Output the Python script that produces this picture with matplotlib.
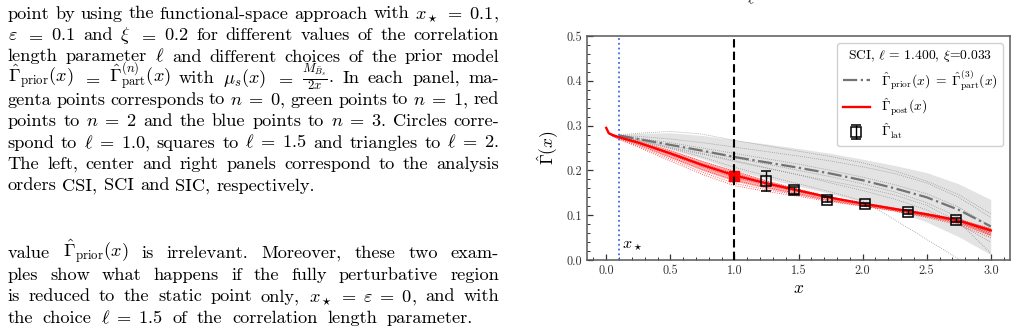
import matplotlib
matplotlib.use("Agg")
import matplotlib.pyplot as plt
from matplotlib.ticker import MultipleLocator

# LaTeX-like look with the bundled Computer Modern fonts
plt.rcParams['font.family'] = ['cmr10', 'DejaVu Serif']
plt.rcParams['mathtext.fontset'] = 'cm'
plt.rcParams['axes.unicode_minus'] = False
plt.rcParams['axes.formatter.use_mathtext'] = True

# ---- data ----
xs = [0.1, 0.25, 0.5, 0.75, 1.0, 1.25, 1.5, 1.75, 2.0, 2.25, 2.5, 2.75, 3.0]
prior_mean = [0.278, 0.270, 0.257, 0.244, 0.230, 0.218, 0.206, 0.193, 0.178, 0.160, 0.140, 0.112, 0.075]
prior_hi = [0.280, 0.283, 0.284, 0.278, 0.268, 0.259, 0.249, 0.238, 0.225, 0.211, 0.195, 0.170, 0.135]
prior_lo = [0.276, 0.266, 0.247, 0.226, 0.200, 0.182, 0.165, 0.148, 0.130, 0.110, 0.085, 0.052, 0.012]
prior_s1 = [0.279, 0.283, 0.287, 0.281, 0.267, 0.255, 0.243, 0.231, 0.217, 0.199, 0.176, 0.146, 0.103]
prior_s2 = [0.278, 0.276, 0.270, 0.262, 0.252, 0.242, 0.232, 0.221, 0.208, 0.193, 0.172, 0.140, 0.095]
prior_s3 = [0.278, 0.272, 0.262, 0.250, 0.238, 0.226, 0.214, 0.200, 0.185, 0.168, 0.148, 0.118, 0.075]
prior_s4 = [0.278, 0.270, 0.256, 0.242, 0.228, 0.214, 0.200, 0.186, 0.170, 0.152, 0.128, 0.095, 0.055]
prior_s5 = [0.277, 0.268, 0.252, 0.238, 0.222, 0.206, 0.190, 0.172, 0.155, 0.136, 0.112, 0.080, 0.040]
prior_s6 = [0.277, 0.266, 0.249, 0.230, 0.207, 0.188, 0.170, 0.152, 0.132, 0.090, 0.046, 0.002, -0.042]
prior_s7 = [0.277, 0.267, 0.250, 0.236, 0.220, 0.205, 0.190, 0.176, 0.162, 0.145, 0.122, 0.085, 0.015]
prior_samples = [prior_s1, prior_s2, prior_s3, prior_s4, prior_s5, prior_s6, prior_s7]

xr = [0.0, 0.02, 0.05, 0.1, 0.25, 0.5, 0.75, 1.0, 1.25, 1.5, 1.75, 2.0, 2.25, 2.5, 2.75, 3.0]
post_mean = [0.295, 0.283, 0.279, 0.274, 0.262, 0.238, 0.212, 0.189, 0.171, 0.155, 0.139, 0.126, 0.114, 0.102, 0.088, 0.066]
post_hi = [0.295, 0.284, 0.280, 0.276, 0.266, 0.246, 0.222, 0.200, 0.178, 0.159, 0.142, 0.128, 0.117, 0.105, 0.092, 0.072]
post_lo = [0.295, 0.282, 0.277, 0.271, 0.256, 0.228, 0.200, 0.176, 0.160, 0.146, 0.132, 0.121, 0.110, 0.097, 0.082, 0.055]
post_r1 = [0.295, 0.284, 0.280, 0.276, 0.265, 0.244, 0.220, 0.198, 0.177, 0.158, 0.141, 0.128, 0.116, 0.104, 0.091, 0.070]
post_r2 = [0.295, 0.283, 0.279, 0.275, 0.263, 0.240, 0.215, 0.193, 0.174, 0.157, 0.140, 0.127, 0.115, 0.103, 0.089, 0.068]
post_r3 = [0.295, 0.283, 0.278, 0.273, 0.260, 0.235, 0.208, 0.184, 0.167, 0.152, 0.137, 0.125, 0.113, 0.100, 0.086, 0.063]
post_r4 = [0.295, 0.282, 0.277, 0.272, 0.257, 0.230, 0.202, 0.178, 0.162, 0.148, 0.134, 0.123, 0.112, 0.099, 0.084, 0.060]
post_r5 = [0.295, 0.282, 0.276, 0.270, 0.254, 0.225, 0.196, 0.171, 0.157, 0.145, 0.132, 0.121, 0.110, 0.097, 0.081, 0.055]
post_r6 = [0.295, 0.282, 0.276, 0.269, 0.252, 0.221, 0.191, 0.166, 0.153, 0.142, 0.130, 0.120, 0.109, 0.095, 0.078, 0.050]
post_samples = [post_r1, post_r2, post_r3, post_r4, post_r5, post_r6]

# matching point at x = 1
match_x = [1.0]
match_y = [0.187]
match_err = [0.010]

# lattice data
lat_x = [1.245, 1.463, 1.722, 2.022, 2.353, 2.728]
lat_y = [0.176, 0.156, 0.135, 0.124, 0.107, 0.089]
lat_err = [0.022, 0.008, 0.005, 0.004, 0.004, 0.004]

x_star = 0.1
x_match = 1.0

# ---- figure ----
W, H = 1017, 333
fig = plt.figure(figsize=(W / 100, H / 100), dpi=100)
renderer = fig.canvas.get_renderer()

# ---- left column text, justified by hand ----
FS = 13.2
X0, X1 = 7.5, 499.0

para1 = [
    ["point", "by", "using", "the", "functional-space", "approach", "with", r"$x_\star\;=\;0.1$,"],
    [r"$\varepsilon$", r"$=$", r"$0.1$", "and", r"$\xi$", r"$=$", r"$0.2$", "for", "different", "values", "of", "the", "correlation"],
    ["length", "parameter", r"$\ell$", "and", "different", "choices", "of", "the", "prior", "model"],
    [r"$\hat{\Gamma}_{\mathrm{prior}}(x)$", r"$=$", r"$\hat{\Gamma}^{(n)}_{\mathrm{part}}(x)$", "with",
     r"$\mu_s(x)$", r"$=$", r"$\frac{M_{\bar{B}_s}}{2x}$.", "In", "each", "panel,", "ma-"],
    ["genta", "points", "corresponds", "to", r"$n\;=\;0$,", "green", "points", "to", r"$n\;=\;1$,", "red"],
    ["points", "to", r"$n\;=\;2$", "and", "the", "blue", "points", "to", r"$n\;=\;3$.", "Circles", "corre-"],
    ["spond", "to", r"$\ell\;=\;1.0$,", "squares", "to", r"$\ell\;=\;1.5$", "and", "triangles", "to", r"$\ell\;=\;2$."],
    ["The", "left,", "center", "and", "right", "panels", "correspond", "to", "the", "analysis"],
    ["orders", "CSI,", "SCI", "and", "SIC,", "respectively."],
]
para2 = [
    ["value", r"$\hat{\Gamma}_{\mathrm{prior}}(x)$", "is", "irrelevant.", "Moreover,", "these", "two", "exam-"],
    ["ples", "show", "what", "happens", "if", "the", "fully", "perturbative", "region"],
    ["is", "reduced", "to", "the", "static", "point", "only,", r"$x_\star\;=\;\varepsilon\;=\;0$,", "and", "with"],
    ["the", "choice", r"$\ell\;=\;1.5$", "of", "the", "correlation", "length", "parameter."],
]
# right edge of each paragraph's last line (None = natural spacing)
para1_last = None
para2_last = 473.0


def put_line(tokens, y, right=X1):
    texts = [fig.text(0, 1 - y / H, tok, fontsize=FS, ha='left', va='baseline') for tok in tokens]
    widths = [t.get_window_extent(renderer=renderer).width for t in texts]
    if right is not None and len(tokens) > 1:
        gap = (right - X0 - sum(widths)) / (len(tokens) - 1)
    else:
        gap = 0.333 * FS * 100 / 72
    x = X0
    for t, w in zip(texts, widths):
        t.set_x(x / W)
        x += w + gap


for i, line in enumerate(para1):
    put_line(line, 18.5 + 21.5 * i, right=X1 if i < len(para1) - 1 else para1_last)
for i, line in enumerate(para2):
    put_line(line, 258.0 + 21.6 * i, right=X1 if i < len(para2) - 1 else para2_last)

# cut-off label from the panel above
fig.text(751 / W, 1 - 6 / H, r"$\ell$", fontsize=11, ha='center', va='bottom')

# ---- the panel ----
ax = fig.add_axes([587 / W, 1 - 260 / H, (1010 - 587) / W, (260 - 36) / H])

ax.fill_between(xs, prior_lo, prior_hi, color='0.89', lw=0, zorder=1)
for s in prior_samples:
    ax.plot(xs, s, ls=':', color='0.55', lw=0.55, zorder=2)
ax.plot(xs, prior_mean, ls='-.', color='0.45', lw=1.6, zorder=3,
        label=r"$\hat{\Gamma}_{\mathrm{prior}}(x)\;=\;\hat{\Gamma}^{(3)}_{\mathrm{part}}(x)$")

ax.fill_between(xr, post_lo, post_hi, color='red', alpha=0.3, lw=0, zorder=4)
for s in post_samples:
    ax.plot(xr, s, ls=':', color='red', lw=0.6, alpha=0.8, zorder=4)
ax.plot(xr, post_mean, color='red', lw=1.7, zorder=5, label=r"$\hat{\Gamma}_{\mathrm{post}}(x)$")

ax.errorbar(match_x, match_y, yerr=match_err, fmt='s', color='red', ms=7.5, elinewidth=1.2, zorder=6)
ax.errorbar(lat_x, lat_y, yerr=lat_err, fmt='s', mfc='none', mec='k', ecolor='k', ms=7, mew=1.1,
            elinewidth=1.0, capsize=3.5, capthick=1.0, zorder=7, label=r"$\hat{\Gamma}_{\mathrm{lat}}$")

ax.axvline(x_star, color='royalblue', ls=':', lw=1.3, zorder=8)
ax.axvline(x_match, color='k', ls=(0, (4, 2)), lw=1.5, zorder=8)
ax.text(x_star + 0.02, 0.027, r"$x_\star$", fontsize=11.5)

ax.set_xlim(-0.15, 3.15)
ax.set_ylim(0.0, 0.5)
ax.xaxis.set_major_locator(MultipleLocator(0.5))
ax.xaxis.set_minor_locator(MultipleLocator(0.1))
ax.yaxis.set_major_locator(MultipleLocator(0.1))
ax.yaxis.set_minor_locator(MultipleLocator(0.02))
ax.xaxis.set_major_formatter(plt.FormatStrFormatter('%.1f'))
ax.yaxis.set_major_formatter(plt.FormatStrFormatter('%.1f'))
ax.tick_params(which='both', direction='in', top=False, right=False, labelsize=8.8, colors='0.2')
ax.tick_params(which='major', length=4, width=0.9)
ax.tick_params(which='minor', length=2, width=0.7)
for sp in ax.spines.values():
    sp.set_color('0.35')
    sp.set_linewidth(1.1)

ax.set_xlabel(r"$x$", fontsize=12.5, labelpad=3)
ax.set_ylabel(r"$\hat{\Gamma}(x)$", fontsize=12.5, labelpad=4)

leg = ax.legend(loc='upper right', fontsize=9.8, title=r"SCI, $\ell$ = 1.400, $\xi$=0.033",
                title_fontsize=9.8, framealpha=0.9, borderaxespad=0.5, labelspacing=0.3,
                borderpad=0.4)

fig.savefig("out.png", dpi=100)
